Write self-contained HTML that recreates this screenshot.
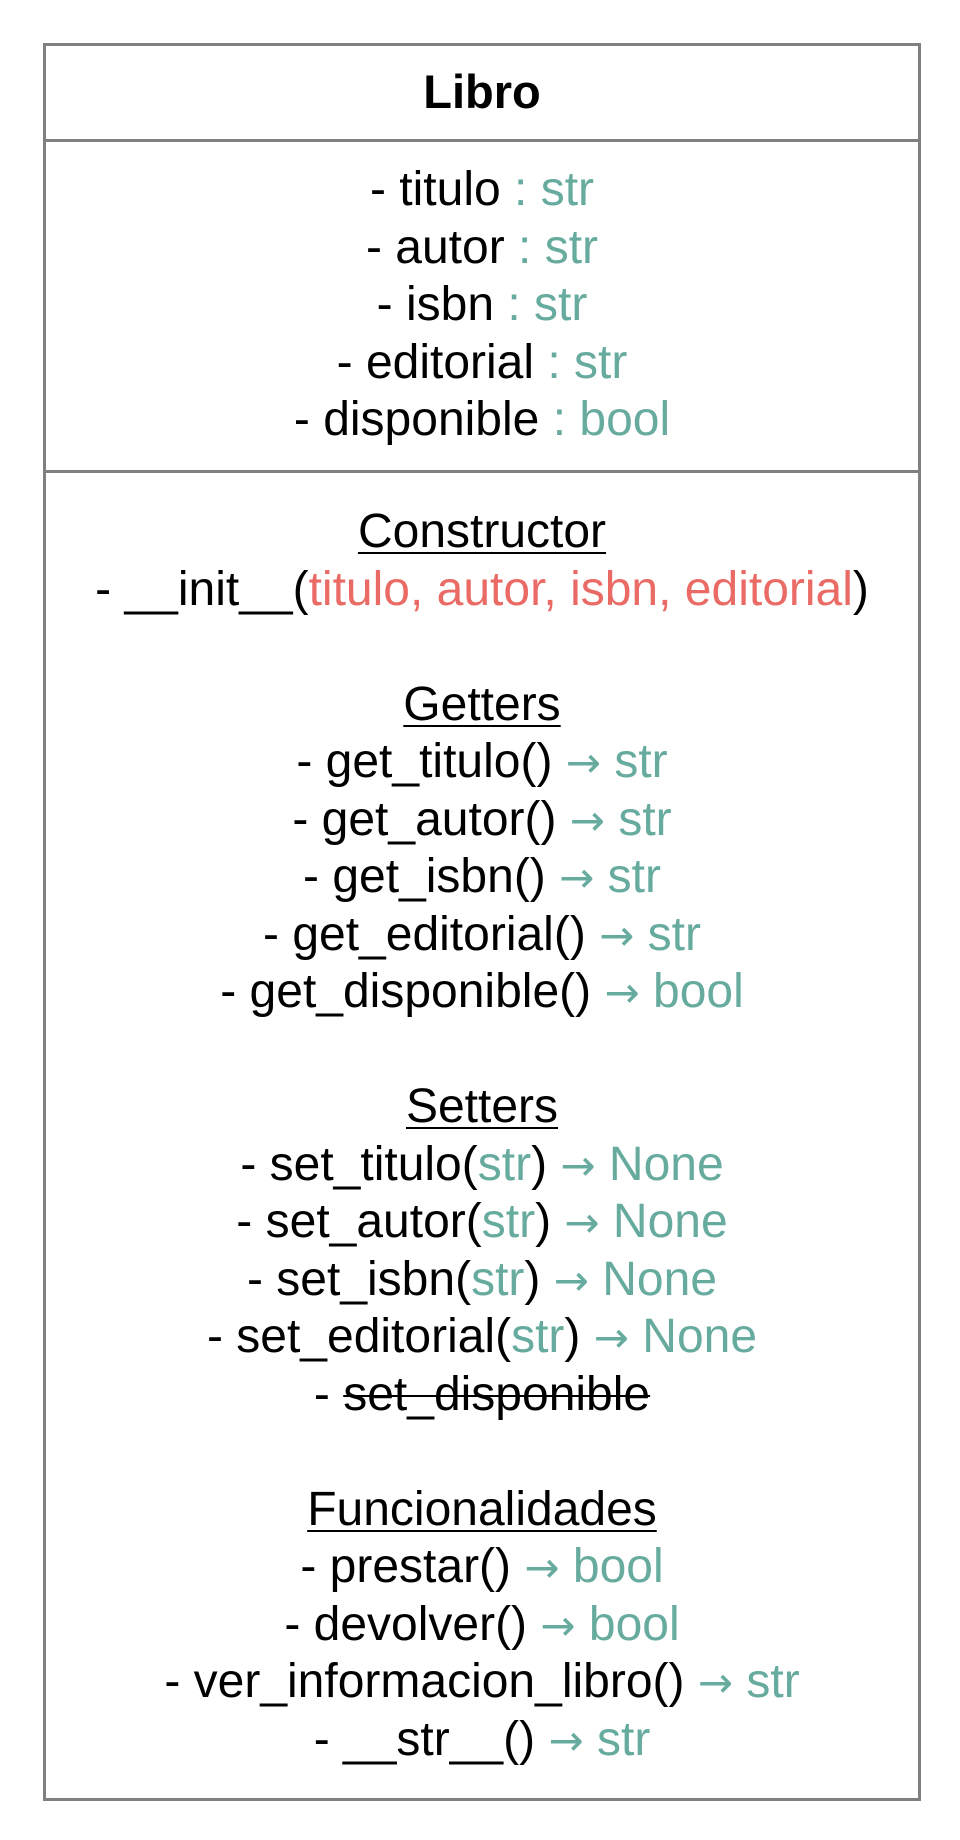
<!DOCTYPE html>
<html><head><meta charset="utf-8"><style>
html,body{margin:0;padding:0;background:#fff;}
body{width:960px;height:1840px;position:relative;font-family:"Liberation Sans",Arial,sans-serif;color:#000;}
.box{position:absolute;left:43px;top:43px;width:872px;height:1752px;border:3px solid #808080;}
.hl{position:absolute;left:43px;width:878px;height:3px;background:#808080;}
.t{position:absolute;left:43px;width:878px;text-align:center;font-size:48px;line-height:57.5px;white-space:pre;}
.g{color:#67AB9F}.r{color:#EA6B66}
.a{font-family:"DejaVu Sans",sans-serif;font-size:42px;line-height:0;}
u{text-decoration:underline;text-decoration-thickness:2px;text-underline-offset:5px}
s{text-decoration-thickness:2px}
</style></head><body>
<div class="box"></div>
<div class="hl" style="top:139px"></div>
<div class="hl" style="top:470px"></div>
<div class="t" style="top:63px;font-weight:bold;font-size:47px;">Libro</div>
<div class="t" style="top:161px;">- titulo <span class="g">: str</span>
- autor <span class="g">: str</span>
- isbn <span class="g">: str</span>
- editorial <span class="g">: str</span>
- disponible <span class="g">: bool</span></div>
<div class="t" style="top:503px;"><u>Constructor</u>
- __init__(<span class="r">titulo, autor, isbn, editorial</span>)

<u>Getters</u>
- get_titulo() <span class="g"><span class="a">→</span> str</span>
- get_autor() <span class="g"><span class="a">→</span> str</span>
- get_isbn() <span class="g"><span class="a">→</span> str</span>
- get_editorial() <span class="g"><span class="a">→</span> str</span>
- get_disponible() <span class="g"><span class="a">→</span> bool</span>

<u>Setters</u>
- set_titulo(<span class="g">str</span>) <span class="g"><span class="a">→</span> None</span>
- set_autor(<span class="g">str</span>) <span class="g"><span class="a">→</span> None</span>
- set_isbn(<span class="g">str</span>) <span class="g"><span class="a">→</span> None</span>
- set_editorial(<span class="g">str</span>) <span class="g"><span class="a">→</span> None</span>
- <s>set_disponible</s>

<u>Funcionalidades</u>
- prestar() <span class="g"><span class="a">→</span> bool</span>
- devolver() <span class="g"><span class="a">→</span> bool</span>
- ver_informacion_libro() <span class="g"><span class="a">→</span> str</span>
- __str__() <span class="g"><span class="a">→</span> str</span></div>
</body></html>
